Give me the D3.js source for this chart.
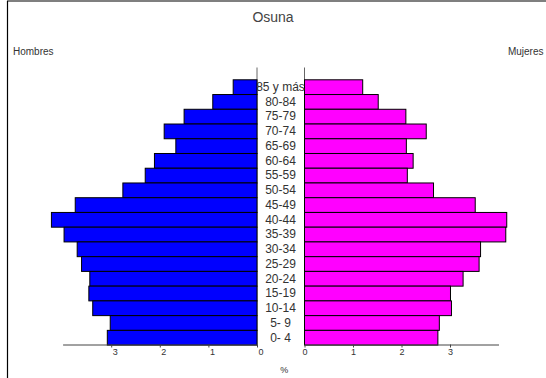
<!DOCTYPE html>
<html><head><meta charset="utf-8">
<script src="https://cdn.jsdelivr.net/npm/d3@7"></script>
<style>
html,body{margin:0;padding:0;background:#fff;}
svg{display:block;font-family:"Liberation Sans",Arial,sans-serif;}
</style></head>
<body><svg id="c" width="546" height="378"></svg>
<script>
const categories = ["85 y más","80-84","75-79","70-74","65-69","60-64","55-59","50-54","45-49","40-44","35-39","30-34","25-29","20-24","15-19","10-14","5- 9","0- 4"];
const hombres = [0.49,0.91,1.50,1.91,1.67,2.11,2.30,2.76,3.74,4.23,3.97,3.70,3.61,3.44,3.46,3.38,3.02,3.08];
const mujeres = [1.20,1.52,2.09,2.51,2.10,2.24,2.12,2.66,3.52,4.17,4.15,3.63,3.60,3.27,3.01,3.03,2.78,2.75];
const tickValues = [0,1,2,3];
const title = "Osuna", leftLabel = "Hombres", rightLabel = "Mujeres", unitLabel = "%";

const svg = d3.select("#c");
const txt = "#333";

// frame
svg.append("line").attr("x1",7.5).attr("x2",7.5).attr("y1",1).attr("y2",378).attr("stroke","#000").attr("stroke-width",1.2);
svg.append("line").attr("x1",7).attr("x2",546).attr("y1",1).attr("y2",1).attr("stroke","#000").attr("stroke-width",1.2);

const y = d3.scaleBand().domain(categories).range([79.3, 344.6]).padding(0);
const xL = d3.scaleLinear().domain([0,4]).range([257, 62.6]);
const xR = d3.scaleLinear().domain([0,4]).range([304.5, 498.5]);
const axisY = 344.5;

// vertical axis lines
[257, 304.5].forEach(x => {
  svg.append("line").attr("x1",x).attr("x2",x).attr("y1",67.5).attr("y2",axisY).attr("stroke","#666").attr("stroke-width",1);
});

// bars
svg.append("g").selectAll("rect").data(categories).join("rect")
  .attr("x", (d,i) => xL(hombres[i]))
  .attr("y", d => y(d) + 0.5)
  .attr("width", (d,i) => xL(0) - xL(hombres[i]))
  .attr("height", y.step())
  .attr("fill", "#0000ff").attr("stroke", "#000").attr("stroke-width", 1);

svg.append("g").selectAll("rect").data(categories).join("rect")
  .attr("x", xR(0))
  .attr("y", d => y(d) + 0.5)
  .attr("width", (d,i) => xR(mujeres[i]) - xR(0))
  .attr("height", y.step())
  .attr("fill", "#ff00ff").attr("stroke", "#000").attr("stroke-width", 1);

// category labels
svg.append("g").selectAll("text").data(categories).join("text")
  .attr("x", 280.5)
  .attr("y", d => y(d) + y.bandwidth()/2 + 4.3)
  .attr("text-anchor","middle").attr("font-size", 12).attr("fill", txt)
  .style("white-space","pre")
  .text(d => d);

// x axes
function drawAxis(scale, dx) {
  const g = svg.append("g").attr("transform", `translate(0,${axisY})`)
    .call(d3.axisBottom(scale).tickValues(tickValues).tickSize(3).tickSizeOuter(0).tickFormat(d3.format("d")));
  g.select(".domain").attr("stroke","#444");
  g.selectAll(".tick line").attr("stroke","#444");
  g.selectAll(".tick text").attr("font-size",9).attr("fill",txt).attr("font-family","Liberation Sans, Arial, sans-serif").attr("dx",dx).attr("dy","0.55em");
  return g;
}
drawAxis(xL, 3.5);
drawAxis(xR, 0);

// texts
svg.append("text").attr("x",273).attr("y",21.5).attr("text-anchor","middle").attr("font-size",14).attr("fill","#444").text(title);
svg.append("text").attr("x",13).attr("y",55).attr("font-size",10).attr("fill",txt).text(leftLabel);
svg.append("text").attr("x",543.5).attr("y",55).attr("text-anchor","end").attr("font-size",10).attr("fill",txt).text(rightLabel);
svg.append("text").attr("x",284.3).attr("y",372.5).attr("text-anchor","middle").attr("font-size",9).attr("fill",txt).text(unitLabel);
</script></body></html>
